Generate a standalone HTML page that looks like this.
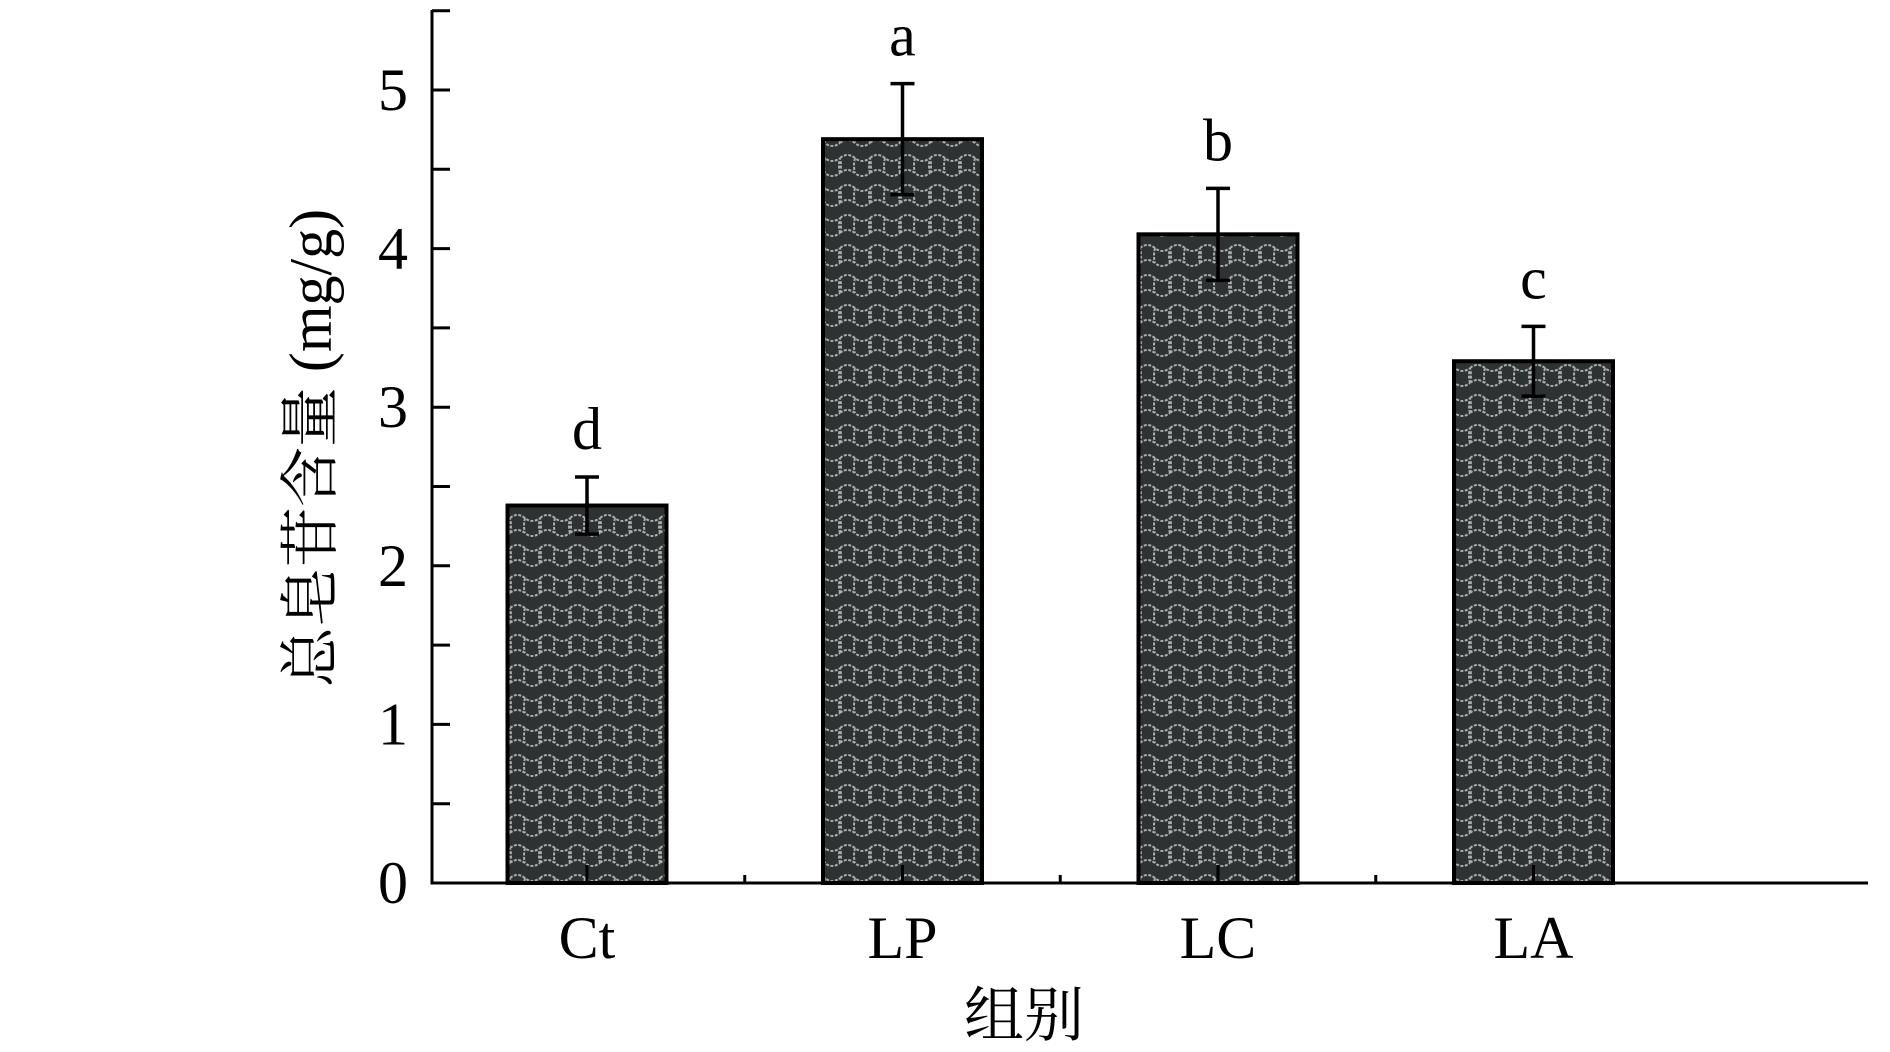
<!DOCTYPE html>
<html><head><meta charset="utf-8"><style>
html,body{margin:0;padding:0;background:#fff;}
svg{display:block;}
text{font-family:"Liberation Serif","Noto Serif CJK SC",serif;fill:#000;}
</style></head><body>
<svg id="chart" width="1890" height="1052" viewBox="0 0 1890 1052">
<defs>
<pattern id="fill" width="30" height="30" patternUnits="userSpaceOnUse">
<rect width="30" height="30" fill="#2e3232"/>
<path d="M0 8 Q7 2 15 8 Q22 14 30 8 M15 8 Q13 16 15 23 M0 23 Q7 17 15 23 Q22 29 30 23 M0 23 Q2 16 0 8 M30 23 Q28 16 30 8" stroke="#a8adad" stroke-width="2" fill="none" stroke-dasharray="3 1.5"/>
</pattern>
</defs>
<g id="axes"></g>
<g id="bars"></g>
<text x="317" y="448" font-size="60" text-anchor="middle" dominant-baseline="middle" transform="rotate(-90 317 448)">总皂苷含量 (mg/g)</text>
<text x="1024" y="1036" font-size="60" text-anchor="middle">组别</text>
</svg>
<script>
const categories = ["Ct","LP","LC","LA"];
const values = [2.38, 4.69, 4.09, 3.29];
const errors = [0.18, 0.35, 0.29, 0.22];
const letters = ["d","a","b","c"];
const yTicks = [0,1,2,3,4,5];

const NS="http://www.w3.org/2000/svg";
const x0=432, y0=883, unit=158.6, xEnd=1868, bw=159;
const centers0=587, step=315.5;
const yS=v=>y0-v*unit;
const xS=i=>centers0+i*step;
function mk(tag,attrs,parent){const e=document.createElementNS(NS,tag);for(const k in attrs)e.setAttribute(k,attrs[k]);parent.appendChild(e);return e;}
const ax=document.getElementById('axes'), bars=document.getElementById('bars');

yTicks.forEach((t,i)=>{
  const tk=mk('line',{x1:x0,x2:x0+18,y1:yS(t),y2:yS(t),stroke:'#000','stroke-width':3},ax);
  
  
  const m=mk('line',{x1:x0,x2:x0+18,y1:yS(t+0.5),y2:yS(t+0.5),stroke:'#000','stroke-width':3},ax);
  
  
  const lb=mk('text',{x:x0-24,y:yS(t)+20,'font-size':60,'text-anchor':'end'},ax);
  lb.textContent=t;
  
  
});
categories.forEach((c,i)=>{
  const xm=xS(i)+step/2;
  if(i<categories.length-1){
    const mt=mk('line',{x1:xm,x2:xm,y1:y0,y2:y0-8,stroke:'#000','stroke-width':3},ax);
    
    
  }
  const lb=mk('text',{x:xS(i),y:y0+75,'font-size':60,'text-anchor':'middle'},ax);
  lb.textContent=c;
  
  
});

categories.forEach((c,i)=>{
  const cx=xS(i), top=yS(values[i]);
  const r=mk('rect',{x:cx-bw/2,y:top,width:bw,height:y0-top,fill:'url(#fill)',stroke:'#000','stroke-width':4},bars);
  
  
  const eh=yS(values[i]+errors[i]), el=yS(values[i]-errors[i]);
  const g=mk('g',{stroke:'#000','stroke-width':3.5},bars);
  
  
  mk('line',{x1:cx,x2:cx,y1:eh,y2:el},g);
  mk('line',{x1:cx-12,x2:cx+12,y1:eh,y2:eh},g);
  mk('line',{x1:cx-12,x2:cx+12,y1:el,y2:el},g);
  const tk=mk('line',{x1:cx,x2:cx,y1:y0,y2:y0-18,stroke:'#000','stroke-width':3},bars);
  
  
  const lt=mk('text',{x:cx,y:eh-28,'font-size':60,'text-anchor':'middle'},bars);
  lt.textContent=letters[i];
  
  
});
const ya=mk('line',{x1:x0,x2:x0,y1:10,y2:y0+1.5,stroke:'#000','stroke-width':3},ax);


const xa=mk('line',{x1:x0-1.5,x2:xEnd,y1:y0,y2:y0,stroke:'#000','stroke-width':3},ax);


</script>
</body></html>
